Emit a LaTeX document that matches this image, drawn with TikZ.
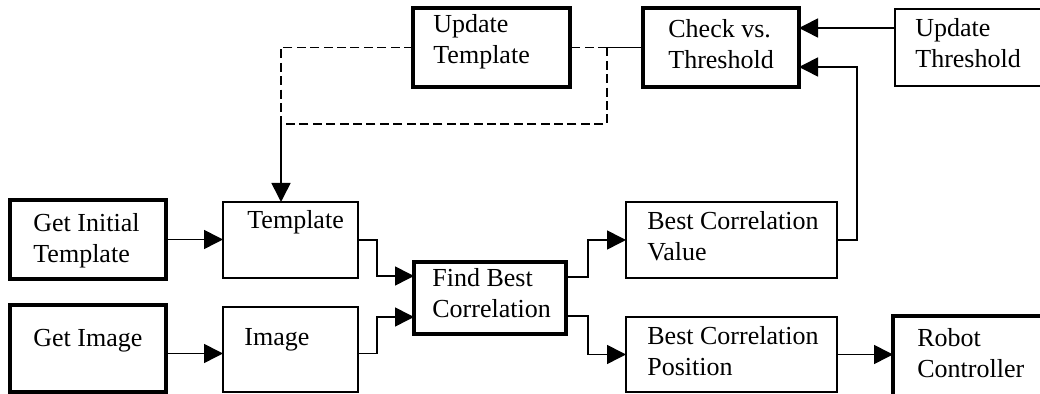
\documentclass[tikz,border=0pt]{standalone}
\usepackage{fontspec}
\setmainfont{Liberation Serif}
\usetikzlibrary{arrows.meta,calc,fit}
\tikzset{
  thinbox/.style={draw,line width=0.8pt,inner sep=0pt,outer sep=0pt},
  thickbox/.style={draw,line width=2.2pt,inner sep=0pt,outer sep=0pt},
  txt/.style={inner sep=0pt,anchor=base west,font=\fontsize{13}{15.2}\selectfont},
  conn/.style={line width=0.8pt},
  arr/.style={conn,-{Triangle[length=9.5pt,width=9.5pt]}},
  dsh/.style={conn,dash pattern=on 4.5pt off 2.2pt},
}
\newcommand{\fbx}[8]{%
  \node[#2,fit={(#3,#4) (#5,#6)}] (#1) {};
  \node[txt] (#1-label) at ($(#1.north west)+#7$) {\begin{tabular}[t]{@{}l@{}}#8\end{tabular}};
}
\begin{document}
\begin{tikzpicture}[x=0.5pt,y=-0.5pt]
\useasboundingbox (0,0) rectangle (1040,394);
\fbx{ut}{thickbox}{413}{8}{570}{87}{(20,25)}{Update\\Template}
\fbx{chk}{thickbox}{643}{8}{799}{87}{(25,30)}{Check vs.\\Threshold}
\fbx{uth}{thinbox}{895}{9}{1042}{86}{(20,28)}{Update\\Threshold}
\fbx{initt}{thickbox}{10}{200}{166}{279}{(23,32)}{Get Initial\\Template}
\fbx{tmpl}{thinbox}{223}{202}{358}{278}{(24,27)}{Template}
\fbx{getimg}{thickbox}{10}{305}{166}{392}{(23,42)}{Get Image}
\fbx{img}{thinbox}{223}{307}{358}{392}{(21,39)}{Image}
\fbx{find}{thickbox}{414}{262}{566}{334}{(18,25)}{Find Best\\Correlation}
\fbx{bcv}{thinbox}{626}{202}{837}{278}{(21,28)}{Best Correlation\\Value}
\fbx{bcp}{thinbox}{626}{317}{837}{392}{(21,28)}{Best Correlation\\Position}
\fbx{rob}{thickbox}{893}{316}{1045}{398}{(24,31)}{Robot\\Controller}

\coordinate (j1) at (607,47.5);
\coordinate (j3) at (607,124);
\coordinate (j2) at (281,124);
\coordinate (gia) at ($(getimg.east)+(0,5)$);

\draw[arr] ($(uth.west)+(0,-19.5)$) -- ($(chk.east)+(0,-19.5)$);
\draw[arr] (bcv.east) -- ++(20,0) |- ($(chk.east)+(0,19.5)$);
\draw[conn] (chk.west) -- (j1);
\draw[dsh] (j1) -- (ut.east);
\draw[dsh] (j1) -- (j3) -- (j2);
\draw[dsh] (ut.west) -| (j2);
\draw[arr] (j2) -- (j2 |- tmpl.north);
\draw[arr] (initt.east) -- (initt.east -| tmpl.west);
\draw[arr] (gia) -- (gia -| img.west);
\draw[arr] (tmpl.east) -- ++(19,0) |- ($(find.west)+(0,-22)$);
\draw[arr] ($(img.east)+(0,4)$) -- ++(19,0) |- ($(find.west)+(0,19)$);
\draw[arr] ($(find.east)+(0,-21)$) -- ++(22,0) |- (bcv.west);
\draw[arr] ($(find.east)+(0,18)$) -- ++(22,0) |- (bcp.west);
\draw[arr] (bcp.east) -- (bcp.east -| rob.west);
\end{tikzpicture}
\end{document}
